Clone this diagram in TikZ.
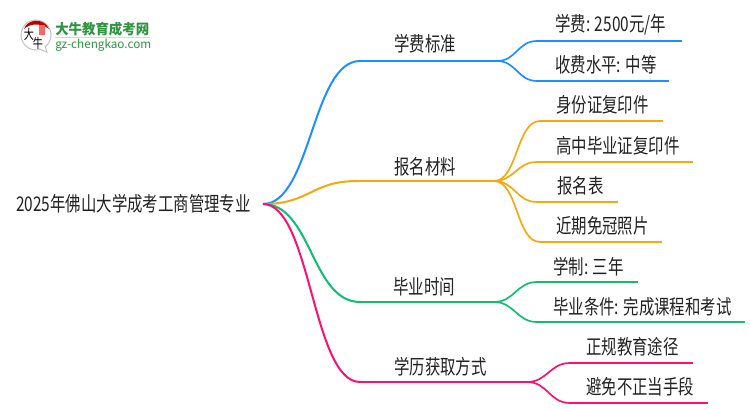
\documentclass[tikz,border=0pt]{standalone}
\usepackage{fontspec}
\setmainfont{Noto Sans CJK SC}[FakeStretch=0.76]
\newfontfamily\logofont{Noto Sans CJK SC}[FakeStretch=0.95]
\newfontfamily\urlfont{Noto Sans CJK SC}
\definecolor{feeblue}{HTML}{1E8FFF}
\definecolor{docorange}{HTML}{F6A80F}
\definecolor{gradgreen}{HTML}{0FBF6E}
\definecolor{waypink}{HTML}{FF0F72}
\definecolor{logogreen}{HTML}{2E9440}
\definecolor{inkgray}{HTML}{222222}
\begin{document}
\begin{tikzpicture}[x=0.75pt,y=-0.75pt,
    main node/.style={font=\fontsize{15.2pt}{17pt}\selectfont,text=inkgray,inner sep=0pt},
    mid line/.style={line width=1.5pt},
    leaf line/.style={line width=1.25pt},
    curve/.style={out=0,in=180,looseness=#1},
    curve/.default=1]
    \useasboundingbox (0,0) rectangle (750,410);
    % logo
    \node[circle,draw=black!25,line width=0.7pt,fill=white,minimum size=22.5pt,inner sep=0pt] (bubble) at (36,35) {};
    \fill[red!75!black] (24,29) .. controls (27,19) and (44,17) .. (49,29) .. controls (42,23) and (30,23) .. (24,29);
    \fill[red!60!white] (39,25) rectangle (45,35);
    \node[font=\fontsize{10pt}{10pt}\selectfont,inner sep=0pt] (logoda) at (29,34) {大};
    \node[font=\fontsize{10pt}{10pt}\selectfont,inner sep=0pt] (logoniu) at (38,43) {牛};
    \draw[black!25,line width=0.7pt,fill=white] (39,49) -- (47,52) -- (45,46);
    \node[font=\logofont\bfseries\fontsize{10.6pt}{12pt}\selectfont,text=logogreen,inner sep=0pt,anchor=west] (logotitle) at (55,29) {大牛教育成考网};
    \node[font=\urlfont\fontsize{8.8pt}{10pt}\selectfont,text=logogreen,inner sep=0pt,anchor=west] (logourl) at (55,45) {gz-chengkao.com};
    \draw[black!15,line width=0.5pt] (logotitle.south west) ++(0,1.5) -- ++(95,0);
    % root
    \node[main node,anchor=east] (root) at (251,204) {2025年佛山大学成考工商管理专业};
    \coordinate (rootout) at (263,204);
    % fee branch
    \coordinate (fee) at (360,61);
    \coordinate (feefork) at (497,61);
    \node[main node] (feetext) at (425,44) {学费标准};
    \coordinate (fee1) at (537,41);
    \coordinate (fee1end) at (682,41);
    \coordinate (fee2) at (537,81);
    \coordinate (fee2end) at (669,81);
    \node[main node,anchor=west] (fee1text) at (555,25) {学费: 2500元/年};
    \node[main node,anchor=west] (fee2text) at (555,65) {收费水平: 中等};
    \path[feeblue,mid line] (rootout) edge[curve=0.71] (fee) (fee) edge (feefork);
    \path[feeblue,leaf line] (feefork) edge[curve=1.1] (fee1) (fee1) edge (fee1end)
        (feefork) edge[curve=1.1] (fee2) (fee2) edge (fee2end);
    % materials branch
    \coordinate (doc) at (358,181);
    \coordinate (docfork) at (494,181);
    \node[main node] (doctext) at (425,167) {报名材料};
    \coordinate (doc1) at (540,121);
    \coordinate (doc1end) at (663,121);
    \coordinate (doc2) at (537,162);
    \coordinate (doc2end) at (693,162);
    \coordinate (doc3) at (537,202);
    \coordinate (doc3end) at (618,202);
    \coordinate (doc4) at (540,242);
    \coordinate (doc4end) at (662,242);
    \node[main node,anchor=west] (doc1text) at (556,105) {身份证复印件};
    \node[main node,anchor=west] (doc2text) at (556,146) {高中毕业证复印件};
    \node[main node,anchor=west] (doc3text) at (557,186) {报名表};
    \node[main node,anchor=west] (doc4text) at (556,226) {近期免冠照片};
    \path[docorange,mid line] (rootout) edge[curve=1.25] (doc) (doc) edge (docfork);
    \path[docorange,leaf line] (docfork) edge[curve=0.8] (doc1) (doc1) edge (doc1end)
        (docfork) edge[curve=1.1] (doc2) (doc2) edge (doc2end)
        (docfork) edge[curve=1.1] (doc3) (doc3) edge (doc3end)
        (docfork) edge[curve=0.8] (doc4) (doc4) edge (doc4end);
    % graduation branch
    \coordinate (grad) at (360,302);
    \coordinate (gradfork) at (494,302);
    \node[main node] (gradtext) at (424,287) {毕业时间};
    \coordinate (grad1) at (537,282);
    \coordinate (grad1end) at (638,282);
    \coordinate (grad2) at (537,322);
    \coordinate (grad2end) at (745,322);
    \node[main node,anchor=west] (grad1text) at (553,267) {学制: 三年};
    \node[main node,anchor=west] (grad2text) at (553,307) {毕业条件: 完成课程和考试};
    \path[gradgreen,mid line] (rootout) edge[curve=0.9] (grad) (grad) edge (gradfork);
    \path[gradgreen,leaf line] (gradfork) edge[curve=1.1] (grad1) (grad1) edge (grad1end)
        (gradfork) edge[curve=1.1] (grad2) (grad2) edge (grad2end);
    % degree branch
    \coordinate (way) at (360,382);
    \coordinate (wayfork) at (527,382);
    \node[main node,anchor=west] (waytext) at (394,367) {学历获取方式};
    \coordinate (way1) at (570,363);
    \coordinate (way1end) at (693,363);
    \coordinate (way2) at (570,403);
    \coordinate (way2end) at (708,403);
    \node[main node,anchor=west] (way1text) at (586,347) {正规教育途径};
    \node[main node,anchor=west] (way2text) at (586,387) {避免不正当手段};
    \path[waypink,mid line] (rootout) edge[curve=0.6] (way) (way) edge (wayfork);
    \path[waypink,leaf line] (wayfork) edge[curve=1.1] (way1) (way1) edge (way1end)
        (wayfork) edge[curve=1.1] (way2) (way2) edge (way2end);
\end{tikzpicture}
\end{document}
